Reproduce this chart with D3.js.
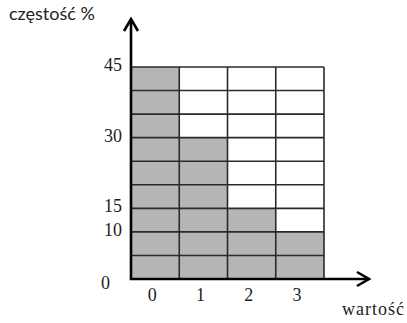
<!DOCTYPE html>
<html lang="pl">
<head>
<meta charset="UTF-8">
<title>częstość %</title>
<script src="https://cdn.jsdelivr.net/npm/d3@7"></script>
<style>
  html, body { margin: 0; padding: 0; background: #fff; }
  svg { display: block; }
  .tick-label { font-family: "Liberation Serif", "Times New Roman", serif; font-size: 18px; fill: #222; }
</style>
</head>
<body>
<svg id="chart" width="407" height="323"></svg>
<script>
// dane
const categories = ['0', '1', '2', '3'];
const frequencies = [45, 30, 15, 10];
const yTickValues = [0, 10, 15, 30, 45];
const gridStep = 5;
const yTitle = 'częstość %';
const xTitle = 'wartość';

const svg = d3.select('#chart');
const plotLeft = 131, plotRight = 324, plotTop = 67, plotBottom = 279;

const x = d3.scaleBand().domain(categories).range([plotLeft, plotRight]).padding(0);
const y = d3.scaleLinear().domain([0, 45]).range([plotBottom, plotTop]);

// slupki
svg.selectAll('.bar')
  .data(categories)
  .enter()
  .append('rect')
  .attr('class', 'bar')
  .attr('x', d => x(d))
  .attr('y', (d, i) => y(frequencies[i]))
  .attr('width', x.bandwidth())
  .attr('height', (d, i) => y(0) - y(frequencies[i]))
  .attr('fill', '#b5b5b5');

// siatka
const rows = d3.range(gridStep, 45 + gridStep, gridStep);
svg.selectAll('.h-grid')
  .data(rows)
  .enter()
  .append('line')
  .attr('x1', plotLeft).attr('x2', plotRight)
  .attr('y1', d => y(d)).attr('y2', d => y(d))
  .attr('stroke', '#2a2a2a')
  .attr('stroke-width', 1.6);

svg.selectAll('.v-grid')
  .data(categories)
  .enter()
  .append('line')
  .attr('x1', d => x(d) + x.bandwidth()).attr('x2', d => x(d) + x.bandwidth())
  .attr('y1', plotTop).attr('y2', plotBottom)
  .attr('stroke', '#2a2a2a')
  .attr('stroke-width', 1.6);

// osie ze strzalkami
const axisColor = '#000';
svg.append('line')
  .attr('x1', plotLeft).attr('x2', plotLeft)
  .attr('y1', plotBottom + 1).attr('y2', 19)
  .attr('stroke', axisColor).attr('stroke-width', 2.6);
svg.append('polyline')
  .attr('points', `${plotLeft - 7},31 ${plotLeft},19 ${plotLeft + 7},31`)
  .attr('fill', 'none').attr('stroke', axisColor).attr('stroke-width', 2.6);

svg.append('line')
  .attr('x1', plotLeft - 1).attr('x2', 369)
  .attr('y1', plotBottom).attr('y2', plotBottom)
  .attr('stroke', axisColor).attr('stroke-width', 2.6);
svg.append('polyline')
  .attr('points', `357,272 369,${plotBottom} 357,286`)
  .attr('fill', 'none').attr('stroke', axisColor).attr('stroke-width', 2.6);

// etykiety osi Y
const yAxis = svg.append('g')
  .attr('transform', `translate(${plotLeft - 9},0)`)
  .call(d3.axisLeft(y).tickValues(yTickValues).tickSize(0).tickPadding(0));
yAxis.select('.domain').remove();
yAxis.selectAll('text')
  .attr('class', 'tick-label')
  .attr('dy', d => d === 0 ? '0.55em' : '0.2em')
  .attr('dx', d => d === 0 ? -12 : 0);

// etykiety osi X
const xAxis = svg.append('g')
  .attr('transform', `translate(-3,${plotBottom})`)
  .call(d3.axisBottom(x).tickSize(0).tickPadding(9));
xAxis.select('.domain').remove();
xAxis.selectAll('text').attr('class', 'tick-label');

// tytuly
svg.append('text')
  .attr('x', 9).attr('y', 20)
  .style('font-family', 'Lato, "Open Sans", sans-serif')
  .style('font-size', '18px')
  .style('fill', '#222')
  .text(yTitle);

svg.append('text')
  .attr('x', 342).attr('y', 315)
  .attr('class', 'tick-label')
  .style('letter-spacing', '1px')
  .text(xTitle);
</script>
</body>
</html>
